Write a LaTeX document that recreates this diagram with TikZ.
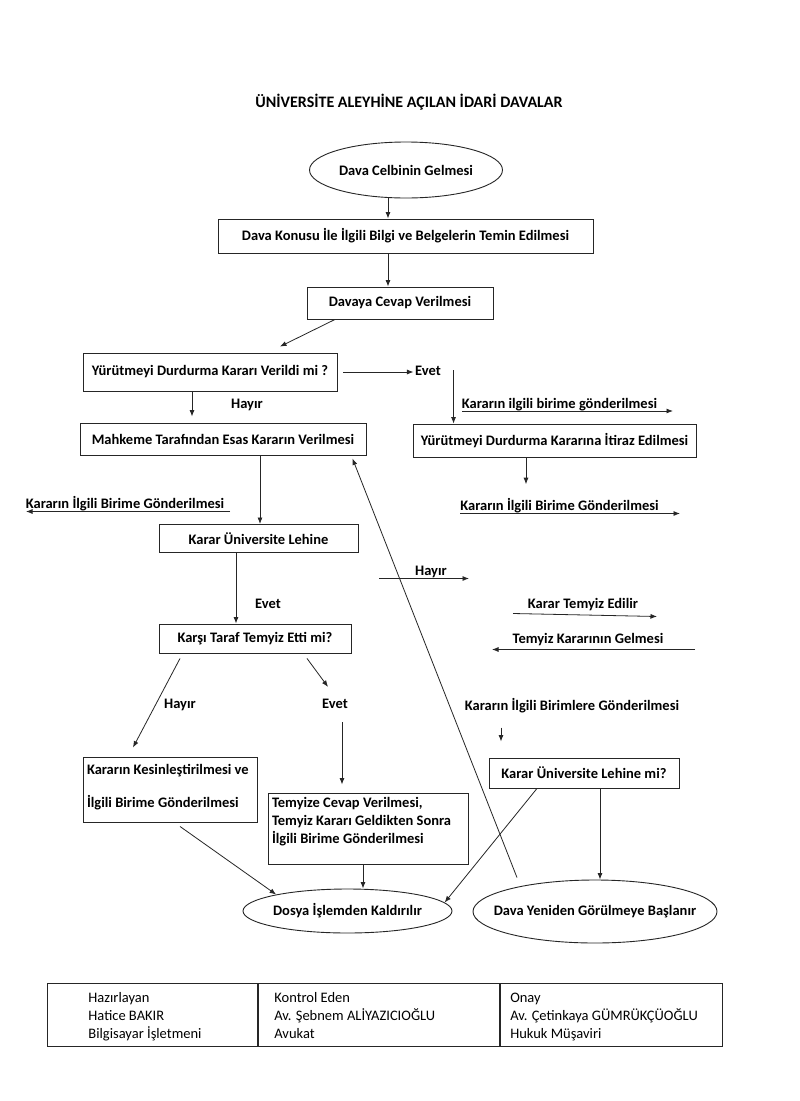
\documentclass[tikz,border=0pt]{standalone}
\usepackage{fontspec}
\setmainfont{Carlito}
\usetikzlibrary{shapes.geometric,arrows.meta}

\newcommand{\chartfont}{\fontsize{14.5}{17.5}\selectfont\bfseries}
\newcommand{\titlefont}{\fontsize{16}{19}\selectfont\bfseries}
\newcommand{\tablefont}{\fontsize{14.5}{18}\selectfont}
\newcommand{\toprow}{\rule{0pt}{16.6pt}}

\tikzset{
  box/.style={draw=black!85, line width=0.9pt, rectangle, inner sep=3pt, font=\chartfont},
  oval/.style={draw=black!85, line width=0.9pt, ellipse, inner xsep=-20pt, inner ysep=0pt, font=\chartfont},
  lbl/.style={inner sep=1.5pt, anchor=base, font=\chartfont},
  arr/.style={-{Latex[length=6.5pt,width=5pt]}, line width=0.8pt, draw=black!85},
  cell/.style={draw=black!85, line width=0.9pt, rectangle, anchor=north west, inner ysep=1pt,
    minimum height=63pt, align=flush left, font=\tablefont},
}

\begin{document}
\begin{tikzpicture}[x=1pt, y=-1pt]
  \useasboundingbox[fill=white] (0,0) rectangle (800,1101);
  % Define nodes
  \node[lbl, font=\titlefont] (title) at (409,107) {ÜNİVERSİTE ALEYHİNE AÇILAN İDARİ DAVALAR};
  \node[oval, minimum width=193pt, minimum height=56pt] (celbin) at (406,170) {Dava Celbinin Gelmesi};
  \node[box, minimum width=375pt, minimum height=34pt] (konu) at (405.5,236) {Dava Konusu İle İlgili Bilgi ve Belgelerin Temin Edilmesi};
  \node[box, minimum width=186pt, minimum height=32pt] (cevap) at (400,303) {Davaya Cevap Verilmesi};
  \node[box, minimum width=254pt, minimum height=38pt] (ydk) at (210,372) {Yürütmeyi Durdurma Kararı Verildi mi ?};
  \node[box, minimum width=286pt, minimum height=32pt] (mahkeme) at (223,439) {Mahkeme Tarafından Esas Kararın Verilmesi};
  \node[box, minimum width=199pt, minimum height=28pt] (lehine) at (258.5,538.5) {Karar Üniversite Lehine};
  \node[box, minimum width=192pt, minimum height=29pt] (temyizmi) at (255,638.5) {Karşı Taraf Temyiz Etti mi?};
  \node[box, minimum width=174pt, minimum height=65pt] (kesin) at (170,789.5)
    {\parbox[c][57pt][t]{166pt}{\vspace*{3pt}Kararın Kesinleştirilmesi ve\\[15.5pt]İlgili Birime Gönderilmesi}};
  \node[box, minimum width=200pt, minimum height=71pt] (tcevap) at (368,828.5)
    {\parbox[c][63pt][t]{192pt}{\baselineskip=18pt Temyize Cevap Verilmesi,\\Temyiz Kararı Geldikten Sonra\\İlgili Birime Gönderilmesi}};
  \node[oval, minimum width=209pt, minimum height=44pt] (dosya) at (347.5,911) {Dosya İşlemden Kaldırılır};
  \node[box, minimum width=283pt, minimum height=33pt] (itiraz) at (554.5,440.5) {Yürütmeyi Durdurma Kararına İtiraz Edilmesi};
  \node[box, minimum width=190pt, minimum height=30pt] (lehinemi) at (584,773) {Karar Üniversite Lehine mi?};
  \node[oval, minimum width=244pt, minimum height=63pt] (yeniden) at (595,911.5) {Dava Yeniden Görülmeye Başlanır};
  % labels on the connectors
  \node[lbl] (evetA) at (428,375) {Evet};
  \node[lbl] (hayirA) at (247,408) {Hayır};
  \node[lbl] (gondA) at (559.5,408) {Kararın ilgili birime gönderilmesi};
  \node[lbl] (gondB) at (559.5,510) {Kararın İlgili Birime Gönderilmesi};
  \node[lbl] (gondC) at (125,508) {Kararın İlgili Birime Gönderilmesi};
  \node[lbl] (hayirB) at (431,575) {Hayır};
  \node[lbl] (evetB) at (268,608) {Evet};
  \node[lbl] (edilir) at (583,608) {Karar Temyiz Edilir};
  \node[lbl] (gelmesi) at (588,643) {Temyiz Kararının Gelmesi};
  \node[lbl] (hayirC) at (180,708) {Hayır};
  \node[lbl] (evetC) at (335,708) {Evet};
  \node[lbl] (birimler) at (572,710) {Kararın İlgili Birimlere Gönderilmesi};
  % signature table
  \node[cell, inner xsep=41pt, text width=128pt] (hazir) at (47,983)
    {\toprow Hazırlayan\\Hatice BAKIR\\Bilgisayar İşletmeni\strut};
  \node[cell, inner xsep=16pt, text width=209pt] (kontrol) at (hazir.north east)
    {\toprow Kontrol Eden\\Av. Şebnem ALİYAZICIOĞLU\\Avukat\strut};
  \node[cell, inner xsep=10pt, text width=202pt] (onay) at (kontrol.north east)
    {\toprow Onay\\Av. Çetinkaya GÜMRÜKÇÜOĞLU\\Hukuk Müşaviri\strut};
  % connect the first steps
  \draw[arr] ([xshift=-18pt]celbin.south) -- ([xshift=-17.5pt]konu.north);
  \draw[arr] ([xshift=-17.5pt]konu.south) -- ([xshift=-12pt]cevap.north);
  \draw[arr] ([xshift=-65pt]cevap.south) -- ([shift={(70pt,6pt)}]ydk.north);
  % yes branch of the stay order
  \draw[arr] ([xshift=6pt]ydk.east) -- (evetA.west |- ydk.east);
  \draw[arr] ([xshift=11pt]evetA.east) -- ([xshift=11pt]evetA.east |- itiraz.north);
  \draw[arr] ([shift={(-97.5pt,-3pt)}]gondA.base) -- ([shift={(113.5pt,-3pt)}]gondA.base);
  \draw[arr] ([xshift=-28.5pt]itiraz.south) -- ([shift={(-33.5pt,12pt)}]gondB.north);
  \draw[arr] ([shift={(-99.5pt,-3.5pt)}]gondB.base) -- ([shift={(120.5pt,-3.5pt)}]gondB.base);
  % no branch down to the decision
  \draw[arr] ([xshift=-18pt]ydk.south) -- ([shift={(-31pt,6pt)}]mahkeme.north);
  \draw[arr] ([xshift=37pt]mahkeme.south) -- ([xshift=1.5pt]lehine.north);
  \draw[arr] ([shift={(105pt,-3.5pt)}]gondC.base) -- ([shift={(-99pt,-3.5pt)}]gondC.base);
  \draw[arr] ([xshift=-22.5pt]lehine.south) -- ([xshift=-19pt]temyizmi.north);
  % appeal on the right side
  \draw[arr] ([shift={(-52pt,-3.5pt)}]hayirB.base) -- ([shift={(38pt,-3.5pt)}]hayirB.base);
  \draw[arr] ([shift={(-70pt,-5.5pt)}]edilir.base) -- ([shift={(74pt,-8.5pt)}]edilir.base);
  \draw[arr] ([shift={(107pt,-6.5pt)}]gelmesi.base) -- ([shift={(-96pt,-6.5pt)}]gelmesi.base);
  \draw[arr] ([shift={(-71pt,-17.5pt)}]birimler.base) -- ([shift={(-83pt,16pt)}]lehinemi.north);
  \draw[arr] ([xshift=16pt]lehinemi.south) -- ([xshift=5pt]yeniden.north);
  \draw[arr] ([xshift=-47pt]lehinemi.south) -- (dosya.5);
  \draw[arr] ([shift={(-78pt,2pt)}]yeniden.north) -- ([shift={(-14pt,-3pt)}]mahkeme.south east);
  % appeal by the other side
  \draw[arr] ([shift={(-75pt,-5pt)}]temyizmi.south) -- ([shift={(-37pt,9pt)}]kesin.north);
  \draw[arr] ([shift={(52pt,-5pt)}]temyizmi.south) -- ([shift={(-7pt,10pt)}]evetC.north);
  \draw[arr] ([shift={(7pt,-14pt)}]evetC.base) -- ([shift={(-26pt,8pt)}]tcevap.north);
  % connect to the final states
  \draw[arr] ([shift={(10pt,-4pt)}]kesin.south) -- (dosya.167);
  \draw[arr] ([xshift=-5pt]tcevap.south) -- ([xshift=15.5pt]dosya.north);
\end{tikzpicture}
\end{document}
